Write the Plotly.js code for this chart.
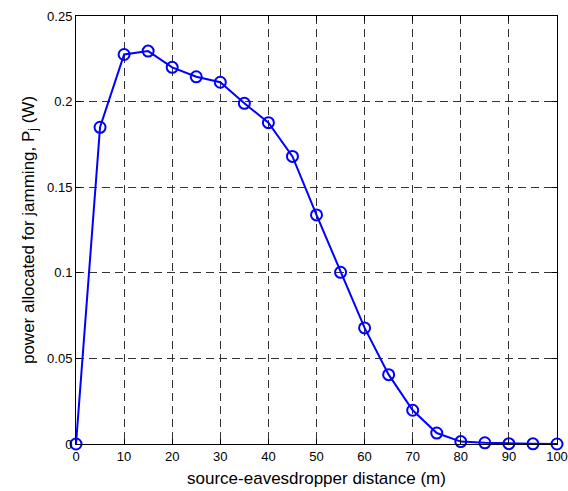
<!DOCTYPE html>
<html>
<head>
<meta charset="utf-8">
<script src="https://cdn.plot.ly/plotly-3.0.1.min.js"></script>
<style>html,body{margin:0;padding:0;background:#fff;}#plot{width:568px;height:491px;}</style>
</head>
<body>
<div id="plot"></div>
<script>
const distance = [0, 5, 10, 15, 20, 25, 30, 35, 40, 45, 50, 55, 60, 65, 70, 75, 80, 85, 90, 95, 100];
const power = [0, 0.185, 0.2275, 0.2295, 0.220, 0.2145, 0.2113, 0.199, 0.1877, 0.168, 0.1338, 0.1003, 0.0678, 0.0405, 0.0197, 0.0064, 0.0014, 0.0007, 0.0002, 0.0001, 0];
const xTicks = [0, 10, 20, 30, 40, 50, 60, 70, 80, 90, 100];
const yTicks = [0, 0.05, 0.1, 0.15, 0.2, 0.25];
const yTickText = ['0', '0.05', '0.1', '0.15', '0.2', '0.25'];

const trace = {
  x: distance, y: power, type: 'scatter', mode: 'lines+markers',
  line: {color: '#0000ff', width: 2},
  marker: {symbol: 'circle-open', size: 11, color: '#0000ff', line: {width: 2, color: '#0000ff'}},
  cliponaxis: false, showlegend: false
};

const fam = 'Liberation Sans, Arial, sans-serif';
const layout = {
  width: 568, height: 491,
  margin: {l: 76, r: 11, t: 16, b: 47},
  paper_bgcolor: '#fff', plot_bgcolor: '#fff',
  font: {family: fam, size: 13, color: '#000'},
  xaxis: {
    range: [0, 100], tickvals: xTicks, ticktext: xTicks.map(String),
    showgrid: true, gridcolor: '#333', griddash: '8px,5px', gridwidth: 1,
    zeroline: false, showline: true, linecolor: '#000', linewidth: 1, mirror: 'ticks',
    ticks: 'inside', ticklen: 5, tickcolor: '#000',
    tickfont: {family: fam, size: 13, color: '#000'},
    title: {text: 'source-eavesdropper distance (m)', font: {family: fam, size: 17, color: '#000'}, standoff: 9}
  },
  yaxis: {
    range: [0, 0.25], tickvals: yTicks, ticktext: yTickText,
    showgrid: true, gridcolor: '#333', griddash: '8px,5px', gridwidth: 1,
    zeroline: false, showline: true, linecolor: '#000', linewidth: 1, mirror: 'ticks',
    ticks: 'inside', ticklen: 5, tickcolor: '#000',
    tickfont: {family: fam, size: 13, color: '#000'},
    title: {text: 'power allocated for jamming, P<sub>j</sub> (W)', font: {family: fam, size: 17, color: '#000'}, standoff: 8}
  }
};
Plotly.newPlot('plot', [trace], layout, {displayModeBar: false, staticPlot: true});
</script>
</body>
</html>
